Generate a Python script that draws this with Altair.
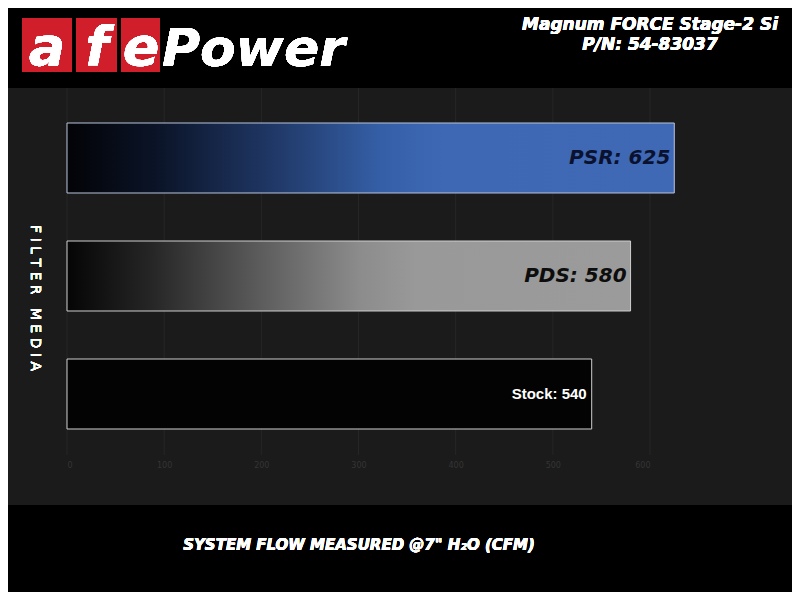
import altair as alt
import pandas as pd

media = ["PSR", "PDS", "Stock"]
flow = [625, 580, 540]
ticks = [0, 100, 200, 300, 400, 500, 600]

df = pd.DataFrame({"media": media, "flow": flow})
df["label"] = [f"{m}: {v}" for m, v in zip(media, flow)]
tick_df = pd.DataFrame({"t": ticks})

W, H = 583, 360
xscale = alt.Scale(domain=[0, 600], range=[0, W], nice=False, zero=True)
yscale = alt.Scale(domain=media, range=[4, 358], paddingInner=0.407, paddingOuter=0.2035)

X = alt.X("flow:Q", scale=xscale,
          axis=alt.Axis(values=ticks, grid=False, ticks=False, domain=False, zindex=1,
                        labelColor="#353535", labelFontSize=8, labelPadding=6, title=None,
                        labelFont="DejaVu Sans"))
Y = alt.Y("media:N", scale=yscale, axis=None)


def grad(stops):
    return {"gradient": "linear", "x1": 0, "y1": 0, "x2": 1, "y2": 0,
            "stops": [{"offset": o, "color": c} for o, c in stops]}


base = alt.Chart(df)

def deco_rect(x, x2, y, y2, color):
    return alt.Chart(tick_df).mark_rect(color=color).encode(
        x=alt.value(x), x2=alt.value(x2), y=alt.value(y), y2=alt.value(y2))

def deco_text(txt, x, y, **kw):
    return alt.Chart(tick_df).mark_text(text=txt, **kw).encode(x=alt.value(x), y=alt.value(y))

bg = deco_rect(-59, 725, -7, 410, "#1b1b1b")

grid = alt.Chart(tick_df).mark_rule(color="#262626", strokeWidth=1).encode(
    x=alt.X("t:Q", scale=xscale), y=alt.value(-7), y2=alt.value(H))

psr = base.transform_filter("datum.media == 'PSR'").mark_bar(
    fill=grad([(0, "#020306"), (0.15, "#0b1428"), (0.35, "#213a6a"), (0.52, "#3560a8"),
               (0.62, "#3e68b4"), (1, "#4069b5")]),
    stroke="#b8c4dc", strokeWidth=1).encode(x=X, y=Y)

pds = base.transform_filter("datum.media == 'PDS'").mark_bar(
    fill=grad([(0, "#050505"), (0.15, "#262626"), (0.35, "#5e5e5e"), (0.52, "#8c8c8c"),
               (0.62, "#999999"), (1, "#9b9b9b")]),
    stroke="#cfcfcf", strokeWidth=1).encode(x=X, y=Y)

stock = base.transform_filter("datum.media == 'Stock'").mark_bar(
    fill="#030303", stroke="#cfcfcf", strokeWidth=1).encode(x=X, y=Y)

lab_psr = base.transform_filter("datum.media == 'PSR'").mark_text(
    align="right", baseline="middle", dx=-4, font="DejaVu Sans", fontWeight="bold",
    fontStyle="italic", fontSize=20, color="#0a1230").encode(x="flow:Q", y=Y, text="label:N")
lab_pds = base.transform_filter("datum.media == 'PDS'").mark_text(
    align="right", baseline="middle", dx=-4, font="DejaVu Sans", fontWeight="bold",
    fontStyle="italic", fontSize=20, color="#0d0d0d").encode(x="flow:Q", y=Y, text="label:N")
lab_stock = base.transform_filter("datum.media == 'Stock'").mark_text(
    align="right", baseline="middle", dx=-5, font="Liberation Sans", fontWeight="bold",
    fontSize=15, color="#ffffff").encode(x="flow:Q", y=Y, text="label:N")

# header logo
red1 = deco_rect(-45, 5, -77, -23, "#d01f2a")
red2 = deco_rect(9, 50, -77, -23, "#d01f2a")
red3 = deco_rect(54, 93, -77, -23, "#d01f2a")
logo_kw = dict(font="DejaVu Sans", fontWeight="bold", fontStyle="italic", color="#ffffff",
               baseline="alphabetic")
la = deco_text("a", -20, -30, align="center", fontSize=54, **logo_kw)
lf = deco_text("f", 30, -30, align="center", fontSize=54, **logo_kw)
le = deco_text("e", 74, -30, align="center", fontSize=54, **logo_kw)
power = deco_text("Power", 95, -29, align="left", fontSize=52, **logo_kw)

t1 = deco_text("Magnum FORCE Stage-2 Si", 583, -70, align="center", baseline="middle",
               font="DejaVu Sans", fontWeight="bold", fontStyle="italic", fontSize=17, color="#ffffff")
t2 = deco_text("P/N: 54-83037", 583, -50, align="center", baseline="middle",
               font="DejaVu Sans", fontWeight="bold", fontStyle="italic", fontSize=17, color="#ffffff")

NB = "\u00a0"
ylab_text = NB.join(list("FILTER")) + NB * 3 + NB.join(list("MEDIA"))
ylab = deco_text(ylab_text, -32, 298 - 95, align="center", baseline="middle", angle=90,
                 font="DejaVu Sans", fontSize=14, color="#ffffff")

xlab = deco_text("SYSTEM FLOW MEASURED @7\" H\u2082O (CFM)", 292, 450, align="center",
                 baseline="middle", font="DejaVu Sans", fontWeight="bold", fontStyle="italic",
                 fontSize=15, color="#ffffff")

chart = alt.layer(bg, grid, psr, pds, stock, lab_psr, lab_pds, lab_stock,
                  red1, red2, red3, la, lf, le, power, t1, t2, ylab, xlab).properties(
    width=W, height=H, background="#000000",
    autosize=alt.AutoSizeParams(type="none"),
    padding={"left": 59, "top": 87, "right": 142, "bottom": 137},
).configure_view(stroke=None)

chart.save("out.html", embed_options={"renderer": "svg", "actions": False})
